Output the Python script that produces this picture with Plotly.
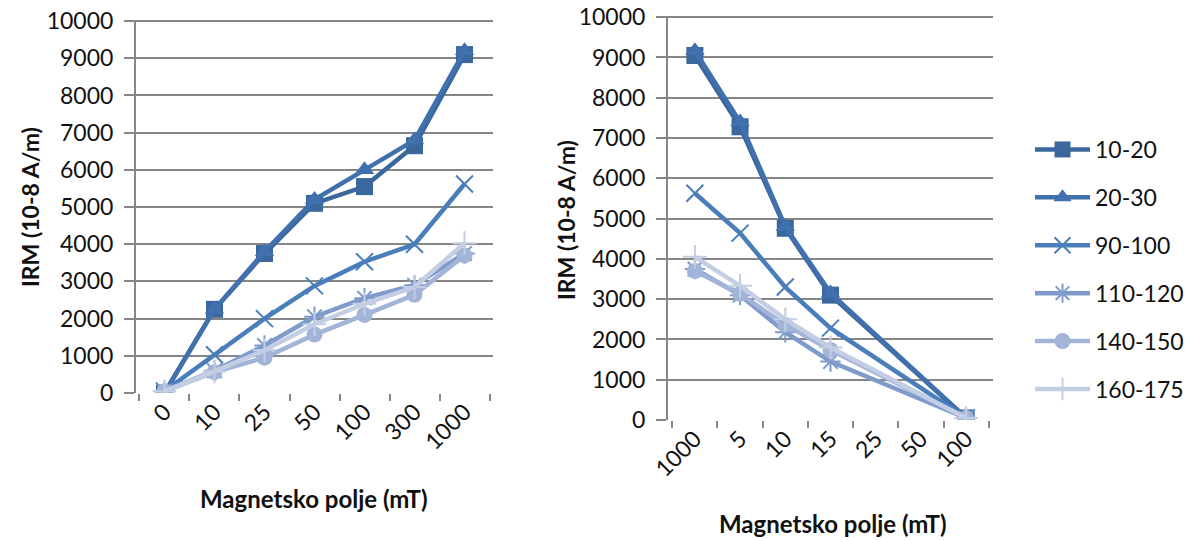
import plotly.graph_objects as go

# ---- data ----
cats_left = ["0", "10", "25", "50", "100", "300", "1000"]
cats_right = ["1000", "5", "10", "15", "25", "50", "100"]
series_names = ["10-20", "20-30", "90-100", "110-120", "140-150", "160-175"]

left_10_20 = [0, 2250, 3750, 5100, 5550, 6650, 9100]
left_20_30 = [0, 2250, 3800, 5200, 6000, 6800, 9200]
left_90_100 = [50, 1030, 2000, 2880, 3530, 4000, 5620]
left_110_120 = [50, 600, 1280, 2050, 2550, 2900, 3750]
left_140_150 = [50, 560, 950, 1570, 2100, 2640, 3700]
left_160_175 = [50, 580, 1150, 1850, 2400, 2850, 4030]

right_10_20 = [9050, 7280, 4760, 3100, None, None, 50]
right_20_30 = [9170, 7400, 4800, 3150, None, None, 50]
right_90_100 = [5630, 4640, 3300, 2280, None, None, 50]
right_110_120 = [3750, 3100, 2180, 1450, None, None, 50]
right_140_150 = [3700, 3130, 2360, 1740, None, None, 50]
right_160_175 = [4050, 3330, 2500, 1800, None, None, 50]

left_data = [left_10_20, left_20_30, left_90_100, left_110_120, left_140_150, left_160_175]
right_data = [right_10_20, right_20_30, right_90_100, right_110_120, right_140_150, right_160_175]

colors = ["#3A679C", "#4070AD", "#4A7EBB", "#7F9BCB", "#A2B4D7", "#C3CEE4"]
symbols = ["square", "triangle-up", "x-thin-open", "asterisk-open", "circle", "cross-thin-open"]
msizes = [17, 17, 17, 17, 16, 17]

FONT = "Lato, 'Liberation Sans', sans-serif"

fig = go.Figure()

def add(xcats, ys, i, xa, ya, show):
    sym = symbols[i]
    thin = "open" in sym
    marker = dict(symbol=sym, size=msizes[i], color=colors[i])
    if thin:
        marker["line"] = dict(color=colors[i], width=2)
    else:
        marker["line"] = dict(width=0)
    fig.add_trace(go.Scatter(
        x=xcats, y=ys, mode="lines+markers", name=series_names[i],
        line=dict(color=colors[i], width=4.5), marker=marker,
        connectgaps=True, xaxis=xa, yaxis=ya, showlegend=show,
        legendgroup=series_names[i],
    ))

for i in range(6):
    add(cats_left, left_data[i], i, "x", "y", True)
for i in range(6):
    add(cats_right, right_data[i], i, "x2", "y2", False)

W, H = 1192, 540


def px(v):
    return v / W


def py(v):
    return 1 - v / H


TICKFONT = dict(family=FONT, size=23, color="#111111")
ax_common = dict(
    type="category", showgrid=False, showline=False, zeroline=False,
    ticks="outside", ticklen=7, tickcolor="#868686", tickwidth=2,
    tickson="boundaries", tickangle=-45, automargin=False,
    tickfont=TICKFONT, fixedrange=True,
)
ay_common = dict(
    range=[0, 10030], dtick=1000, tickformat="d",
    showgrid=True, gridcolor="#868686", gridwidth=2,
    showline=True, linecolor="#868686", linewidth=2, zeroline=False,
    ticks="outside", ticklen=10, tickcolor="#868686", tickwidth=2,
    ticklabelstandoff=6, ticklabeloverflow="allow",
    automargin=False, tickfont=TICKFONT, fixedrange=True,
)

fig.update_layout(
    width=W, height=H, margin=dict(l=0, r=0, t=0, b=0, autoexpand=False),
    paper_bgcolor="white", plot_bgcolor="white",
    xaxis=dict(ax_common, domain=[px(136), px(493)], anchor="y"),
    yaxis=dict(ay_common, domain=[py(393), py(20)], anchor="x"),
    xaxis2=dict(ax_common, domain=[px(668), px(993)], anchor="y2"),
    yaxis2=dict(ay_common, domain=[py(420), py(16)], anchor="x2"),
    legend=dict(
        x=px(1030), y=py(128), xanchor="left", yanchor="top",
        font=dict(family=FONT, size=23, color="#111111"),
        tracegroupgap=15, itemwidth=55, bgcolor="rgba(0,0,0,0)",
    ),
    font=dict(family=FONT, color="#111111"),
)

ytitle_font = dict(family=FONT, size=23, color="#111111")
xtitle_font = dict(family=FONT, size=24, color="#111111")
fig.add_annotation(text="<b>IRM (10-8 A/m)</b>", xref="paper", yref="paper",
                   x=px(30), y=py(207), textangle=-90, showarrow=False,
                   font=ytitle_font, xanchor="center", yanchor="middle")
fig.add_annotation(text="<b>IRM (10-8 A/m)</b>", xref="paper", yref="paper",
                   x=px(566), y=py(220), textangle=-90, showarrow=False,
                   font=ytitle_font, xanchor="center", yanchor="middle")
fig.add_annotation(text="<b>Magnetsko polje (mT)</b>", xref="paper", yref="paper",
                   x=px(314), y=py(498), showarrow=False,
                   font=xtitle_font, xanchor="center", yanchor="middle")
fig.add_annotation(text="<b>Magnetsko polje (mT)</b>", xref="paper", yref="paper",
                   x=px(833), y=py(523), showarrow=False,
                   font=xtitle_font, xanchor="center", yanchor="middle")

fig.write_html("out.html", config={"displayModeBar": False},
               post_script="document.body.style.margin='0';")
